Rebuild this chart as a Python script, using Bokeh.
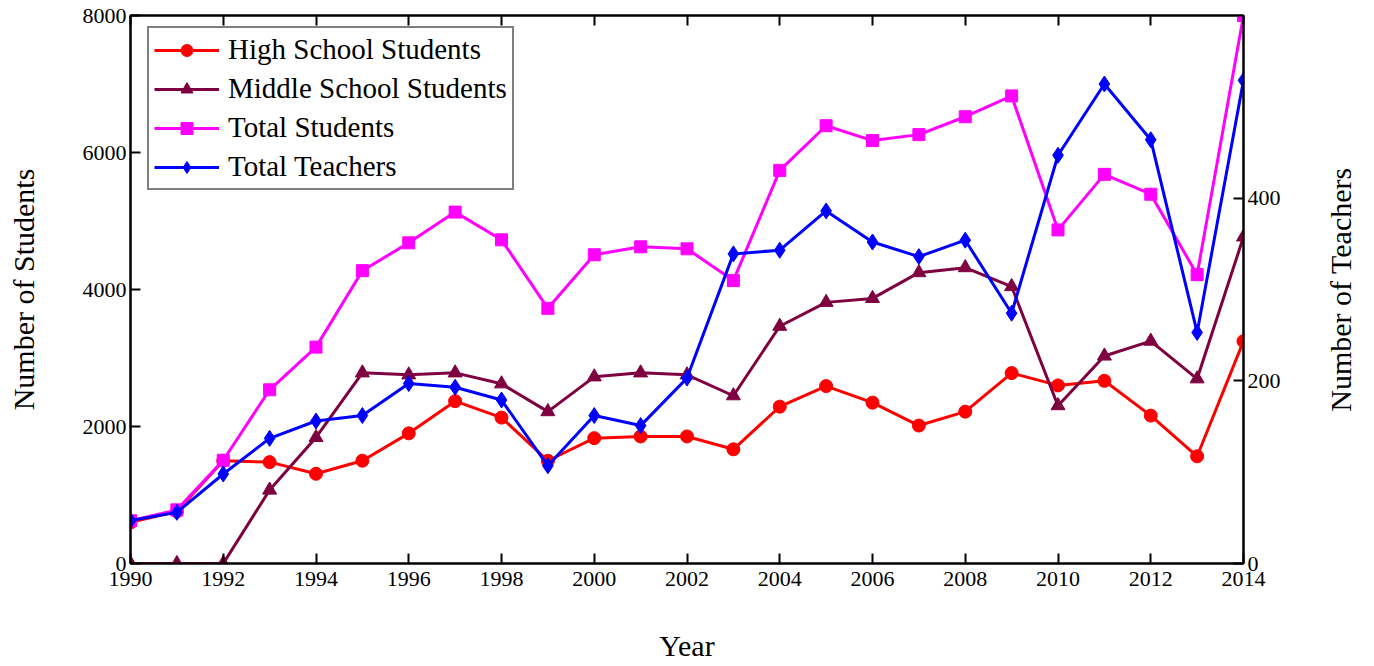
from bokeh.plotting import figure
from bokeh.layouts import row
from bokeh.models import Range1d, LinearAxis, FixedTicker, Legend, LegendItem, ColumnDataSource
from bokeh.embed import file_html
from bokeh.resources import INLINE

years = list(range(1990, 2015))
high_school = [600, 760, 1500, 1480, 1310, 1500, 1900, 2370, 2130, 1500, 1830, 1855, 1855, 1667,
               2290, 2590, 2348, 2014, 2217, 2780, 2600, 2667, 2159, 1565, 3246]
middle_school = [0, 0, 0, 1072, 1840, 2783, 2754, 2783, 2623, 2217, 2725, 2783, 2754, 2449,
                 3464, 3812, 3870, 4246, 4319, 4043, 2304, 3029, 3246, 2696, 4768]
total_students = [623, 783, 1507, 2536, 3159, 4275, 4681, 5130, 4725, 3725, 4507, 4623, 4594, 4130,
                  5739, 6391, 6174, 6261, 6522, 6826, 4870, 5681, 5391, 4217, 8000]
total_teachers = [47, 56, 98, 137, 156, 162, 197, 193, 179, 107, 162, 151, 203, 339,
                  343, 386, 352, 336, 354, 274, 447, 525, 464, 253, 529]

x_ticks = list(range(1990, 2015, 2))
left_ticks = [0, 2000, 4000, 6000, 8000]
right_ticks = [0, 200, 400]

FONT = "Liberation Serif"

p = figure(width=1290, height=664, output_backend="svg", toolbar_location=None,
           x_range=Range1d(1990, 2014), y_range=Range1d(0, 8000),
           min_border_left=130, min_border_right=47, min_border_top=15, min_border_bottom=97)
p.extra_y_ranges = {"teachers": Range1d(0, 600)}
p.xgrid.visible = False
p.ygrid.visible = False
p.outline_line_color = "black"
p.outline_line_width = 2


def style_axis(ax, label_size="22px"):
    ax.axis_line_width = 2
    ax.major_tick_line_width = 2
    ax.major_tick_in = 10
    ax.major_tick_out = 0
    ax.minor_tick_line_color = None
    ax.major_label_text_font = FONT
    ax.major_label_text_font_size = label_size
    ax.axis_label_text_font = FONT
    ax.axis_label_text_font_size = "30px"
    ax.axis_label_text_font_style = "normal"
    ax.axis_label_text_color = "black"
    ax.major_label_text_color = "black"


xa = p.xaxis[0]
xa.ticker = FixedTicker(ticks=x_ticks)
xa.axis_label = "Year"
xa.axis_label_standoff = 40
xa.major_label_standoff = 8
style_axis(xa)

ya = p.yaxis[0]
ya.ticker = FixedTicker(ticks=left_ticks)
ya.axis_label = "Number of Students"
ya.axis_label_standoff = 40
ya.major_label_standoff = 4
style_axis(ya)

ra = LinearAxis(y_range_name="teachers", ticker=FixedTicker(ticks=right_ticks))
style_axis(ra)
ra.major_label_standoff = 4
p.add_layout(ra, "right")

ta = LinearAxis(ticker=FixedTicker(ticks=x_ticks),
                major_label_overrides={t: "" for t in x_ticks})
style_axis(ta, label_size="1px")
ta.major_label_standoff = 0
p.add_layout(ta, "above")

src = ColumnDataSource(dict(x=years, hs=high_school, ms=middle_school, ts=total_students, tt=total_teachers))

lw = 3
l1 = p.line("x", "hs", source=src, line_color="#FF0000", line_width=lw)
s1 = p.scatter("x", "hs", source=src, marker="circle", size=13, color="#FF0000")
l2 = p.line("x", "ms", source=src, line_color="#7F0040", line_width=lw)
s2 = p.scatter("x", "ms", source=src, marker="triangle", size=14, color="#7F0040")
l3 = p.line("x", "ts", source=src, line_color="#FF00FF", line_width=lw)
s3 = p.scatter("x", "ts", source=src, marker="square", size=12, color="#FF00FF")
l4 = p.line("x", "tt", source=src, line_color="#0000FF", line_width=lw, y_range_name="teachers")
s4 = p.scatter("x", "tt", source=src, marker="diamond", size=16, color="#0000FF", y_range_name="teachers")

legend = Legend(items=[
    LegendItem(label="High School Students", renderers=[l1, s1]),
    LegendItem(label="Middle School Students", renderers=[l2, s2]),
    LegendItem(label="Total Students", renderers=[l3, s3]),
    LegendItem(label="Total Teachers", renderers=[l4, s4]),
], location=(17, 373))
legend.label_text_font = FONT
legend.label_text_font_size = "29px"
legend.label_text_color = "black"
legend.label_height = 30
legend.glyph_height = 30
legend.glyph_width = 65
legend.spacing = 6
legend.padding = 5
legend.margin = 0
legend.label_standoff = 9
legend.border_line_color = "black"
legend.border_line_width = 2
legend.background_fill_alpha = 1
p.add_layout(legend, "center")

# narrow companion panel carrying the right-hand title (reads bottom-to-top)
p2 = figure(width=76, height=664, output_backend="svg", toolbar_location=None,
            x_range=Range1d(0, 1), y_range=Range1d(0, 1),
            min_border_left=66, min_border_right=0, min_border_top=15, min_border_bottom=97)
p2.outline_line_color = None
p2.xgrid.visible = False
p2.ygrid.visible = False
p2.xaxis.visible = False
ya2 = p2.yaxis[0]
ya2.ticker = FixedTicker(ticks=[])
ya2.axis_label = "Number of Teachers"
ya2.axis_line_color = None
ya2.major_tick_line_color = None
ya2.minor_tick_line_color = None
ya2.axis_label_standoff = 0
ya2.axis_label_text_font = FONT
ya2.axis_label_text_font_size = "30px"
ya2.axis_label_text_font_style = "normal"
ya2.axis_label_text_color = "black"

layout = row(p, p2)
open("out.html", "w").write(file_html(layout, INLINE))
